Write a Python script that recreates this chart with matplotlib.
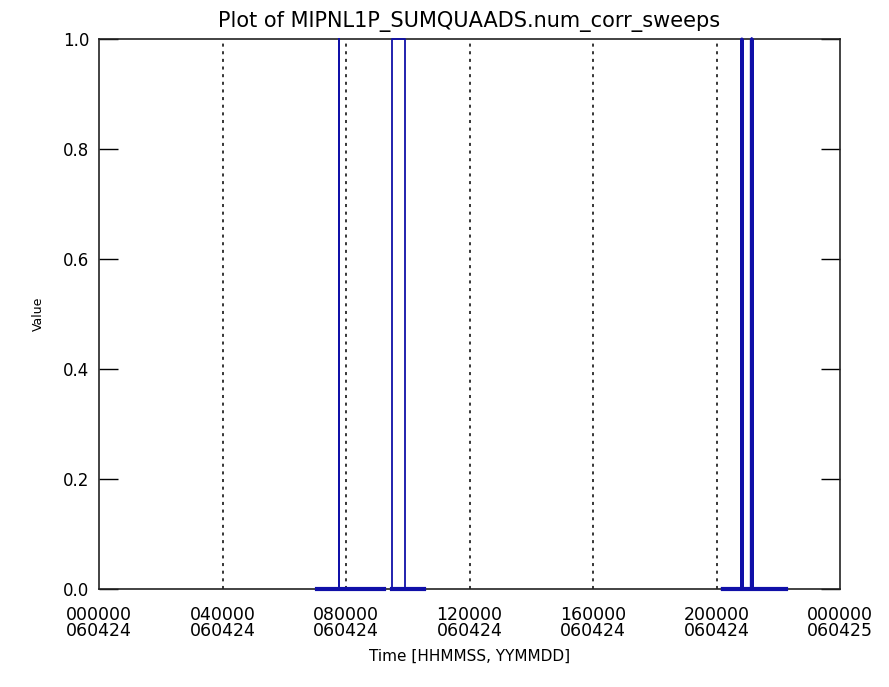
import numpy as np
import matplotlib
matplotlib.use("Agg")
import matplotlib.pyplot as plt

# time in hours since 000000 060424, value of num_corr_sweeps
t_first = [7.06, 7.78, 7.78, 7.78, 9.23, np.nan, 9.48, 9.48, 9.91, 9.91, 10.53]
v_first = [0, 0, 1, 0, 0, np.nan, 0, 1, 1, 0, 0]

t_second = [20.20, 20.82, 20.82, 20.83, 20.83, 21.14, 21.14, 21.14, 22.25]
v_second = [0, 0, 1, 0.5, 0, 0, 1, 0, 0]

tick_hours = [0, 4, 8, 12, 16, 20, 24]
tick_labels = ["000000\n060424", "040000\n060424", "080000\n060424", "120000\n060424",
               "160000\n060424", "200000\n060424", "000000\n060425"]
y_ticks = [0.0, 0.2, 0.4, 0.6, 0.8, 1.0]

fig = plt.figure(figsize=(8.89, 6.87), dpi=100)
ax = fig.add_axes([0.1114, 0.1426, 0.8335, 0.8002])

blue = "#1010a8"
# dotted lines at the inner time ticks
for h in tick_hours[1:-1]:
    ax.axvline(h, color="black", linestyle=(0, (2, 3)), lw=1.1, zorder=1)

ax.plot(t_first, v_first, color=blue, lw=1.3, clip_on=False, zorder=3)
ax.plot(t_second, v_second, color=blue, lw=2.6, clip_on=False, zorder=3)
# baseline segments look heavier
ax.plot([7.06, 9.23], [0, 0], color=blue, lw=3, clip_on=False, zorder=3)
ax.plot([9.48, 10.53], [0, 0], color=blue, lw=3, clip_on=False, zorder=3)
ax.plot([20.20, 22.25], [0, 0], color=blue, lw=3, clip_on=False, zorder=3)

ax.set_xlim(0, 24)
ax.set_ylim(0, 1)
ax.set_xticks(tick_hours)
ax.set_xticklabels(tick_labels, fontsize=12.5, linespacing=0.9)
ax.set_yticks(y_ticks)
ax.set_yticklabels(["%.1f" % v for v in y_ticks], fontsize=12)

ax.tick_params(axis="x", length=0, pad=12)
ax.tick_params(axis="y", direction="in", length=14, width=1, right=True, pad=7)

for s in ax.spines.values():
    s.set_linewidth(1.2)
    s.set_color("#222222")

ax.set_title("Plot of MIPNL1P_SUMQUAADS.num_corr_sweeps", fontsize=15, pad=9)
ax.set_xlabel("Time [HHMMSS, YYMMDD]", fontsize=11, labelpad=6)
ax.set_ylabel("Value", fontsize=9, labelpad=13)

fig.savefig("out.png", dpi=100, facecolor="white")
